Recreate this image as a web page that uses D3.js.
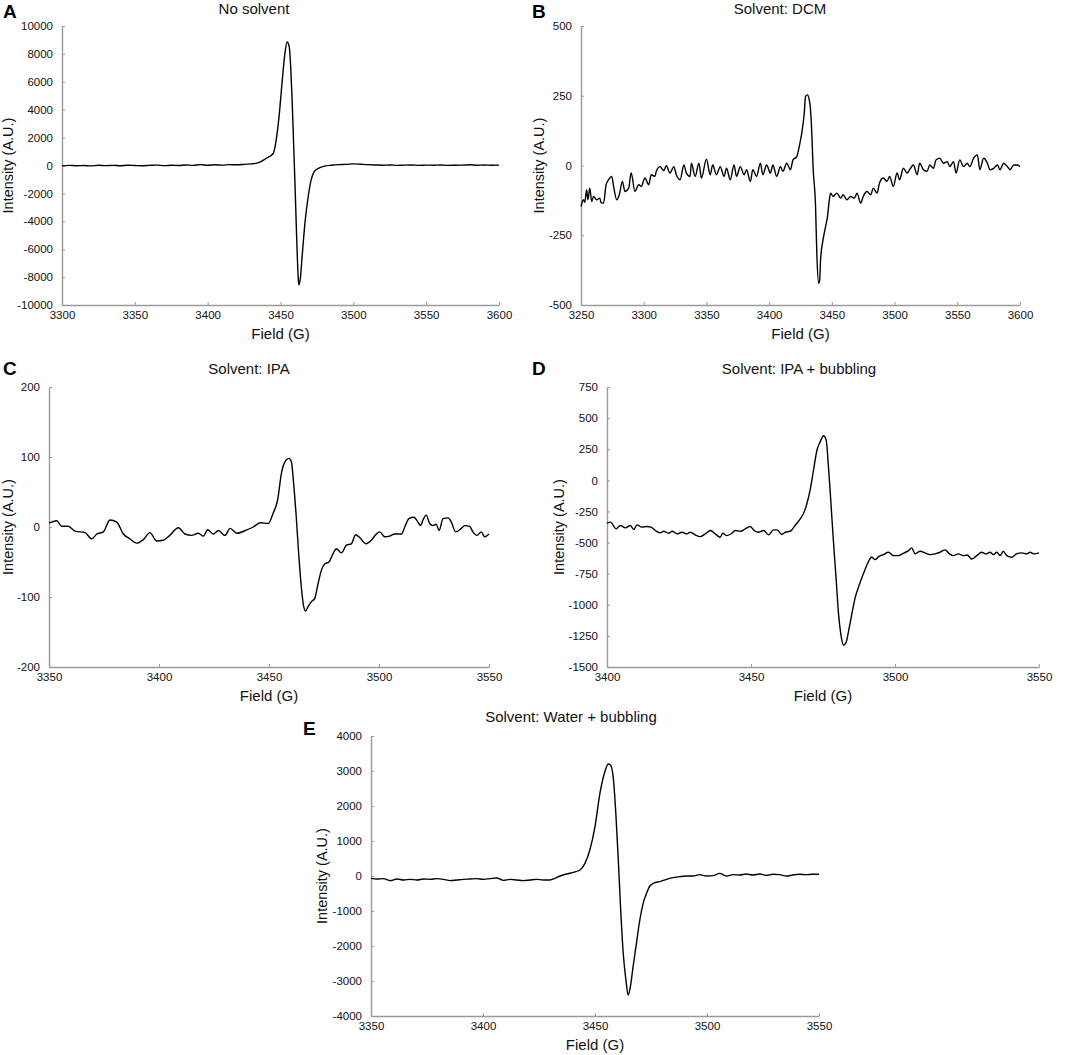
<!DOCTYPE html>
<html><head><meta charset="utf-8">
<script src="https://cdn.jsdelivr.net/npm/d3@7/dist/d3.min.js"></script>
<style>
html,body{margin:0;padding:0;background:#fff;}
svg{display:block;font-family:"Liberation Sans",Arial,Helvetica,sans-serif;}
</style></head>
<body>
<svg id="chart" width="1072" height="1055"></svg>
<script>
// ---------- DATA ----------
const fieldA = [3300,3305,3310,3315,3320,3325,3330,3335,3340,3345,3350,3355,3360,3365,3370,3375,3380,3385,3390,3395,3400,3405,3410,3415,3420,3425,3430,3433,3435,3440,3445,3447,3449,3451,3453,3454.5,3456,3457,3458,3459,3460,3461,3462,3462.5,3463.5,3465,3467,3469,3471,3473,3476,3480,3485,3490,3495,3500,3505,3510,3515,3520,3525,3530,3535,3540,3545,3550,3555,3560,3565,3570,3575,3580,3585,3590,3595,3600];
const intensityA = [-30,10,-20,0,-30,20,-10,10,-20,20,0,-20,10,30,-10,20,0,40,10,60,20,50,30,60,50,80,120,150,200,500,860,1800,3500,5850,8000,8850,8500,7050,4650,1570,-1500,-4850,-7700,-8550,-8200,-6300,-3900,-2240,-1050,-450,-200,-50,20,60,80,120,90,60,40,20,40,10,30,40,10,30,20,40,10,20,30,50,20,40,20,30];

const fieldB = [3250,3252,3253,3254.5,3255.5,3257,3258.5,3260,3262.5,3265,3266,3268,3270,3272,3274.5,3276,3278.5,3280.5,3283,3285,3288,3290,3293,3296,3298,3301,3304,3306,3309,3310,3313,3316,3318,3321,3324,3326,3329,3332,3334,3337,3338,3341,3344,3346,3350,3353,3355,3358,3361,3364,3366,3369,3372,3374,3377,3380,3382,3385,3387,3390,3393,3395,3398,3401,3403,3406,3409,3411,3414,3417,3419,3422,3424,3426,3428,3429,3430.5,3432,3433,3434,3435,3437,3438,3439.5,3440.3,3441,3443,3445,3446.5,3448,3449,3451,3454,3457,3459,3462,3465,3468,3470,3473,3475,3478,3481,3483,3486,3488,3491,3494,3496,3499,3502,3504,3507,3510,3512,3515,3518,3520,3523,3526,3528,3531,3533,3536,3539,3542,3544,3547,3549,3552,3555,3558,3560,3563,3566,3568,3571,3574,3576,3579,3582,3584,3587,3590,3592,3595,3598,3600];
const intensityB = [-147,-123,-132,-87,-123,-81,-129,-111,-123,-117,-133,-135,-69,-51,-39,-75,-123,-105,-57,-93,-81,-27,-93,-69,-75,-45,-69,-33,-39,-21,-4,-18,-1,-27,-4,-33,-51,2,-27,-39,8,-39,8,-45,23,-33,2,-33,-4,-39,-10,-51,2,-39,-4,-33,-15,-57,-15,-39,8,-33,2,-27,2,-39,-4,-21,8,-15,20,32,68,116,188,247,253,235,200,116,-4,-147,-314,-422,-410,-338,-266,-219,-183,-123,-99,-111,-99,-117,-105,-123,-111,-117,-99,-135,-111,-93,-105,-81,-99,-63,-45,-57,-39,-75,-27,-51,-10,-27,-15,2,-33,8,-15,-21,2,-10,20,26,8,14,-4,14,-27,20,-4,8,-4,26,38,-15,26,8,-15,-10,2,-15,8,-4,-15,2,2,-4];

const fieldC = [3350,3351.2,3353.5,3355.8,3358.8,3361.8,3366.4,3369.4,3371.7,3374.7,3377.7,3380.8,3383.8,3386.8,3389.8,3392.9,3395.9,3398.9,3401.9,3404.9,3408.8,3411.8,3414.8,3417.9,3420.2,3422.1,3424.7,3427,3430,3432.3,3435.4,3439.2,3442.9,3446,3449.7,3451.8,3454,3455.6,3457.9,3459.1,3460.2,3461.2,3462.4,3463.6,3464.7,3465.8,3466.7,3467.7,3469.2,3470.8,3472.3,3473.8,3475.3,3477.3,3479.1,3480.6,3482.9,3485.2,3487.4,3489.4,3491.2,3494.2,3496.5,3498.8,3500.3,3502.6,3504.8,3507.1,3510.2,3511.7,3513.6,3515.9,3517.7,3518.9,3520,3521.5,3523,3524.5,3526,3527.3,3529.1,3531.4,3532.9,3534.8,3537.4,3538.9,3541.2,3542.7,3544.5,3546.5,3548,3550];
const intensityC = [6,7,9,1,1,-6,-8,-17,-10,-7,10,7,-10,-17,-23,-18,-8,-20,-19,-12,-1,-10,-12,-9,-13,-4,-10,-5,-12,-2,-9,-5,0,6,5,19,40,76,96,98,93,62,14,-43,-86,-114,-120,-114,-107,-102,-81,-62,-53,-50,-38,-31,-37,-26,-24,-11,-15,-24,-19,-10,-7,-14,-13,-10,-10,0,12,14,7,2,10,17,5,2,4,-5,12,13,7,-7,-2,2,1,-7,-12,-7,-14,-10];

const fieldD = [3400,3401.2,3403.2,3404.6,3406.4,3408.1,3409.3,3410.4,3412.1,3413.9,3415.3,3416.8,3418.5,3419.7,3421.4,3422.6,3424.3,3426,3427.8,3428.9,3430.6,3432.4,3434.1,3435.9,3437.6,3439.3,3440.2,3441.6,3443.4,3444.5,3446.3,3448,3449.7,3451.1,3452.6,3454.4,3456.1,3457.8,3459,3460.7,3461.9,3463.6,3465.3,3467.1,3468.2,3469.4,3470.5,3471.7,3472.9,3474,3475.2,3476.1,3476.9,3477.7,3478.6,3479.6,3480.4,3481.2,3482.1,3483,3483.9,3485,3486.2,3487.3,3489,3490.4,3491.9,3493.1,3494.3,3496,3497.7,3499.5,3501.2,3502.9,3504.7,3505.8,3507,3508.7,3510.4,3512.2,3513.9,3515.6,3517.4,3518.9,3520.3,3522,3523.7,3525.1,3526.6,3528.4,3530.1,3531.6,3533,3534.2,3535.3,3536.5,3537.6,3538.8,3540.5,3542.2,3544,3545.7,3546.9,3548.3,3550];
const intensityD = [-344,-336,-390,-363,-382,-363,-395,-358,-376,-371,-376,-403,-422,-409,-425,-409,-430,-417,-430,-417,-438,-452,-430,-403,-430,-457,-425,-444,-425,-403,-409,-390,-371,-403,-417,-403,-438,-398,-398,-435,-417,-409,-363,-309,-269,-188,-81,81,242,309,358,323,108,-161,-484,-806,-1075,-1237,-1325,-1304,-1210,-1075,-941,-860,-753,-672,-618,-637,-613,-597,-578,-605,-605,-586,-565,-543,-591,-570,-583,-597,-591,-578,-559,-591,-605,-591,-605,-600,-632,-605,-578,-591,-578,-597,-578,-605,-570,-605,-618,-591,-583,-591,-578,-591,-583];

const fieldE = [3350,3352.7,3355.6,3358.6,3361.6,3364.6,3367.5,3370.5,3373.5,3376.4,3379.4,3382.4,3385.3,3388.3,3391.3,3394.3,3397.2,3400.2,3403.2,3406.1,3409.1,3412.1,3415.1,3418,3421,3424,3426.9,3429.9,3432.1,3434.4,3437.3,3440.3,3443.3,3445.5,3447.7,3450,3452.2,3454.4,3455.9,3456.9,3458.1,3459.3,3460.4,3461.4,3462.6,3463.8,3464.8,3465.8,3467,3468.5,3470,3471.5,3473,3474.5,3476.7,3478.9,3481.9,3484.9,3487.8,3490.8,3493.8,3496.7,3499.7,3502.7,3505.7,3508.6,3511.6,3514.6,3517.5,3520.5,3523.5,3526.5,3529.4,3532.4,3535.4,3538.3,3541.3,3544.3,3547,3550];
const intensityE = [-67,-86,-76,-133,-86,-114,-95,-114,-86,-95,-76,-95,-133,-114,-95,-86,-76,-95,-76,-57,-124,-95,-114,-133,-114,-95,-114,-114,-67,0,57,105,171,362,743,1409,2361,2980,3199,3170,2837,1790,457,-876,-2209,-2970,-3399,-3161,-2590,-1923,-1257,-781,-495,-286,-190,-162,-95,-48,-19,0,0,38,0,10,76,0,38,29,57,29,57,19,48,38,0,29,48,38,48,50];

const titles = ["No solvent","Solvent: DCM","Solvent: IPA","Solvent: IPA + bubbling","Solvent: Water + bubbling"];
const letters = ["A","B","C","D","E"];
const xDomains = [[3300,3600],[3250,3600],[3350,3550],[3400,3550],[3350,3550]];
const yDomains = [[-10000,10000],[-500,500],[-200,200],[-1500,750],[-4000,4000]];
const yTickLists = [
  [-10000,-8000,-6000,-4000,-2000,0,2000,4000,6000,8000,10000],
  [-500,-250,0,250,500],
  [-200,-100,0,100,200],
  [-1500,-1250,-1000,-750,-500,-250,0,250,500,750],
  [-4000,-3000,-2000,-1000,0,1000,2000,3000,4000]
];
const xTickLists = [
  [3300,3350,3400,3450,3500,3550,3600],
  [3250,3300,3350,3400,3450,3500,3550,3600],
  [3350,3400,3450,3500,3550],
  [3400,3450,3500,3550],
  [3350,3400,3450,3500,3550]
];
const xLabel = "Field (G)";
const yLabel = "Intensity (A.U.)";
const fields = [fieldA, fieldB, fieldC, fieldD, fieldE];
const intensities = [intensityA, intensityB, intensityC, intensityD, intensityE];

// ---------- LAYOUT ----------
const boxes = [
  {l:62, r:499, t:26, b:305, letterX:3, letterY:18, titleX:254, titleY:14, yTitleX:13},
  {l:581, r:1020, t:26, b:305, letterX:532, letterY:18, titleX:780, titleY:14, yTitleX:544},
  {l:49, r:489, t:387, b:667, letterX:3, letterY:375, titleX:249, titleY:374, yTitleX:13},
  {l:607, r:1039, t:387, b:667, letterX:532, letterY:375, titleX:799, titleY:374, yTitleX:564},
  {l:371, r:819, t:736, b:1016, letterX:303, letterY:735, titleX:571, titleY:722, yTitleX:327}
];

const svg = d3.select("#chart");
const axisColor = "#9a9a9a";
const plainFmt = d => String(d);

boxes.forEach((bx, i) => {
  const x = d3.scaleLinear().domain(xDomains[i]).range([bx.l, bx.r]);
  const y = d3.scaleLinear().domain(yDomains[i]).range([bx.b, bx.t]);
  const g = svg.append("g");

  const yAxis = g.append("g").attr("transform", `translate(${bx.l},0)`)
    .call(d3.axisLeft(y).tickValues(yTickLists[i]).tickSizeInner(-3).tickSizeOuter(0).tickPadding(9).tickFormat(plainFmt));
  const xAxis = g.append("g").attr("transform", `translate(0,${bx.b})`)
    .call(d3.axisBottom(x).tickValues(xTickLists[i]).tickSizeInner(-3).tickSizeOuter(0).tickPadding(6).tickFormat(plainFmt));
  [yAxis, xAxis].forEach(a => {
    a.select(".domain").attr("stroke", axisColor).attr("stroke-width", 1.4);
    a.selectAll(".tick line").attr("stroke", axisColor).attr("stroke-width", 1);
    a.selectAll(".tick text").attr("fill", "#111").style("font-size", "11.5px")
      .style("font-family", '"Liberation Sans", Arial, sans-serif');
  });

  const pts = fields[i].map((f, k) => [f, intensities[i][k]]);
  const line = d3.line().x(d => x(d[0])).y(d => y(d[1])).curve(d3.curveMonotoneX);
  g.append("path").datum(pts).attr("d", line)
    .attr("fill", "none").attr("stroke", "#000").attr("stroke-width", 1.4).attr("stroke-linejoin", "round");

  g.append("text").attr("x", bx.titleX).attr("y", bx.titleY).attr("text-anchor", "middle")
    .style("font-size", "15px").attr("fill", "#111").text(titles[i]);
  g.append("text").attr("x", bx.letterX).attr("y", bx.letterY)
    .style("font-size", "19px").style("font-weight", "bold").attr("fill", "#000").text(letters[i]);
  g.append("text").attr("x", (bx.l + bx.r) / 2).attr("y", bx.b + 34).attr("text-anchor", "middle")
    .style("font-size", "15px").attr("fill", "#111").text(xLabel);
  g.append("text").attr("transform", `translate(${bx.yTitleX},${(bx.t + bx.b) / 2}) rotate(-90)`)
    .attr("text-anchor", "middle").style("font-size", "14.5px").attr("fill", "#111").text(yLabel);
});
</script>
</body></html>
